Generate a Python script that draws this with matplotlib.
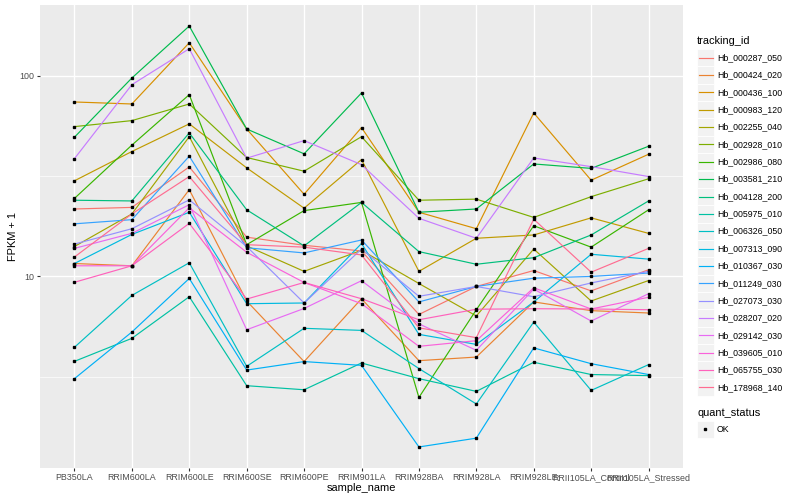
import numpy as np
import matplotlib
matplotlib.use('Agg')
import matplotlib.pyplot as plt
from matplotlib.patches import Rectangle
from matplotlib.lines import Line2D

plt.rcParams['font.family'] = ['Liberation Sans', 'DejaVu Sans']

# samples on the x axis
samples = ['PB350LA', 'RRIM600LA', 'RRIM600LE', 'RRIM600SE', 'RRIM600PE', 'RRIM901LA',
           'RRIM928BA', 'RRIM928LA', 'RRIM928LE', 'RRII105LA_Control', 'RRII105LA_Stressed']

ids = ['Hb_000287_050', 'Hb_000424_020', 'Hb_000436_100', 'Hb_000983_120', 'Hb_002255_040',
       'Hb_002928_010', 'Hb_002986_080', 'Hb_003581_210', 'Hb_004128_200', 'Hb_005975_010',
       'Hb_006326_050', 'Hb_007313_090', 'Hb_010367_030', 'Hb_011249_030', 'Hb_027073_030',
       'Hb_028207_020', 'Hb_029142_030', 'Hb_039605_010', 'Hb_065755_030', 'Hb_178968_140']

# ggplot hue palette, 20 levels
colors = ['#F8766D', '#EA8331', '#D89000', '#C09B00', '#A3A500', '#7CAE00', '#39B600',
          '#00BB4E', '#00BF7D', '#00C1A3', '#00BFC4', '#00BAE0', '#00B0F6', '#35A2FF',
          '#9590FF', '#C77CFF', '#E76BF3', '#FA62DB', '#FF62BC', '#FF6C91']

# FPKM + 1 per sample
hb_000287_050 = [21.7, 22.1, 35.2, 15.7, 14.3, 13.4, 6.46, 8.91, 10.7, 8.47, 10.8]
hb_000424_020 = [11.6, 11.3, 27.1, 7.54, 3.76, 7.74, 3.80, 3.96, 7.46, 6.75, 6.57]
hb_000436_100 = [74.2, 72.5, 146.5, 54.4, 25.7, 55.3, 20.9, 17.3, 65.4, 30.2, 40.7]
hb_000983_120 = [30.0, 42.0, 57.7, 34.8, 21.9, 38.3, 10.6, 15.5, 16.1, 19.6, 16.4]
hb_002255_040 = [14.1, 20.5, 49.8, 14.2, 10.6, 13.5, 9.22, 6.35, 13.7, 7.54, 9.54]
hb_002928_010 = [55.9, 59.9, 72.5, 39.2, 33.5, 49.8, 24.0, 24.3, 19.7, 25.0, 30.7]
hb_002986_080 = [24.5, 45.2, 80.7, 14.4, 21.3, 23.4, 2.49, 6.82, 17.9, 14.0, 21.5]
hb_003581_210 = [49.5, 97.7, 177.5, 54.4, 40.9, 82.3, 20.9, 21.7, 36.4, 34.6, 44.6]
hb_004128_200 = [24.0, 23.8, 52.0, 21.5, 14.2, 23.4, 13.3, 11.5, 12.4, 16.1, 23.8]
hb_005975_010 = [3.77, 4.91, 7.92, 2.85, 2.72, 3.70, 3.09, 2.67, 3.73, 3.24, 3.20]
hb_006326_050 = [4.43, 8.04, 11.7, 3.56, 5.51, 5.38, 3.47, 2.31, 5.92, 2.70, 3.63]
hb_007313_090 = [11.6, 16.2, 20.9, 7.31, 7.37, 14.6, 5.14, 4.58, 7.46, 12.9, 12.2]
hb_010367_030 = [3.09, 5.28, 9.77, 3.41, 3.76, 3.60, 1.41, 1.56, 4.40, 3.67, 3.24]
hb_011249_030 = [18.3, 19.2, 39.8, 13.9, 13.1, 15.2, 7.46, 8.91, 9.80, 10.0, 10.4]
hb_027073_030 = [14.5, 17.3, 24.1, 14.1, 7.37, 13.7, 7.96, 8.91, 7.92, 9.28, 10.6]
hb_028207_020 = [38.7, 90.5, 136.8, 38.9, 47.6, 36.1, 19.5, 15.5, 39.0, 35.3, 31.5]
hb_029142_030 = [13.8, 16.4, 22.8, 5.42, 6.92, 9.52, 5.80, 4.28, 8.65, 5.99, 8.20]
hb_039605_010 = [11.3, 11.3, 22.0, 13.2, 9.33, 7.31, 4.48, 4.78, 8.78, 6.88, 7.87]
hb_065755_030 = [9.35, 11.3, 18.4, 7.71, 9.33, 7.74, 6.08, 6.86, 6.90, 6.88, 6.82]
hb_178968_140 = [12.5, 20.5, 31.5, 14.4, 14.0, 12.8, 5.54, 4.95, 19.3, 10.5, 13.8]

series = [hb_000287_050, hb_000424_020, hb_000436_100, hb_000983_120, hb_002255_040,
          hb_002928_010, hb_002986_080, hb_003581_210, hb_004128_200, hb_005975_010,
          hb_006326_050, hb_007313_090, hb_010367_030, hb_011249_030, hb_027073_030,
          hb_028207_020, hb_029142_030, hb_039605_010, hb_065755_030, hb_178968_140]

W = 800.0
H = 500.0

fig = plt.figure(figsize=(8, 5), dpi=100)
ax = fig.add_axes([40 / W, 1 - 468 / H, 643 / W, 463 / H])

x = np.arange(1, len(samples) + 1)

for vals, col in zip(series, colors):
    ax.plot(x, vals, color=col, lw=0.85, zorder=2)

for vals in series:
    ax.plot(x, vals, ls='none', marker='s', color='black', ms=2.1, zorder=3)

# log scale with ggplot-like 5% expansion
allv = np.log10(np.concatenate([np.array(s) for s in series]))
lo = allv.min()
hi = allv.max()
pad = (hi - lo) * 0.05
ax.set_yscale('log')
ax.set_ylim(10 ** (lo - pad), 10 ** (hi + pad))
ax.set_xlim(0.4, len(samples) + 0.6)

ax.set_yticks([10, 100])
ax.set_yticklabels(['10', '100'])
ax.set_yticks([10 ** 0.5, 10 ** 1.5], minor=True)
ax.yaxis.set_minor_formatter(plt.NullFormatter())
ax.set_xticks(x)
ax.set_xticklabels(samples)

ax.tick_params(which='major', length=2.2, width=0.8, color='#333333',
               labelcolor='#4D4D4D', labelsize=6.4, pad=1.6)
ax.tick_params(which='minor', length=0)

ax.set_facecolor('#EBEBEB')
for s in ax.spines.values():
    s.set_visible(False)
ax.grid(which='major', color='white', lw=1.0)
ax.grid(which='minor', axis='y', color='white', lw=0.5)
ax.set_axisbelow(True)

fig.text(361.5 / W, 1 - 488 / H, 'sample_name', ha='center', va='center', fontsize=7.9)
fig.text(13 / W, 1 - 236.5 / H, 'FPKM + 1', ha='center', va='center', rotation=90, fontsize=7.9)

# legend: tracking_id
fig.text(697 / W, 1 - 40.7 / H, 'tracking_id', ha='left', va='center', fontsize=7.9)
key = 17.3
for i in range(len(ids)):
    yc = 57.7 + i * 17.35
    fig.add_artist(Rectangle((696.7 / W, 1 - (yc + key / 2) / H), key / W, key / H,
                             transform=fig.transFigure, facecolor='#F2F2F2',
                             edgecolor='white', lw=0.6))
    fig.add_artist(Line2D([698.5 / W, 712.5 / W], [1 - yc / H, 1 - yc / H],
                          transform=fig.transFigure, color=colors[i], lw=0.85))
    fig.text(717 / W, 1 - yc / H, ids[i], ha='left', va='center', fontsize=6.3)

# legend: quant_status
fig.text(697 / W, 1 - 412.7 / H, 'quant_status', ha='left', va='center', fontsize=7.9)
yc = 429.3
fig.add_artist(Rectangle((696.7 / W, 1 - (yc + key / 2) / H), key / W, key / H,
                         transform=fig.transFigure, facecolor='#F2F2F2',
                         edgecolor='white', lw=0.6))
fig.add_artist(Line2D([705.3 / W], [1 - yc / H], transform=fig.transFigure,
                      ls='none', marker='s', color='black', ms=2.1))
fig.text(717 / W, 1 - yc / H, 'OK', ha='left', va='center', fontsize=6.3)

fig.savefig('out.png', dpi=100)
